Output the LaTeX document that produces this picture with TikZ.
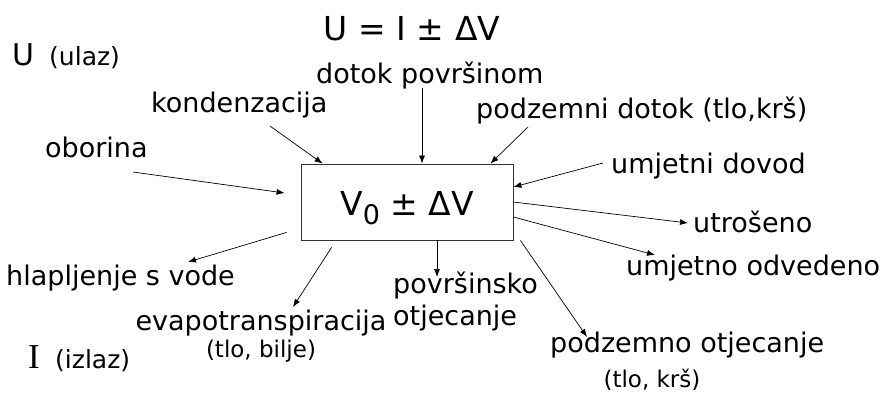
\documentclass[tikz,border=0pt]{standalone}
\usepackage{fontspec}
\setmainfont{DejaVu Sans}
\newfontfamily\serifI{Liberation Serif}
\usetikzlibrary{arrows.meta}

\begin{document}
\begin{tikzpicture}[x=1pt,y=-1pt,
  lbl/.style={font=\fontsize{27}{32}\selectfont, inner sep=0pt, anchor=base west},
  note/.style={font=\fontsize{23}{28}\selectfont, inner sep=0pt, anchor=base},
  flow/.style={-{Latex[length=8pt,width=6pt]}, line width=0.7pt}]
\useasboundingbox (0,0) rectangle (880,394);
% naslov i oznake
\node[inner sep=0pt, anchor=base, font=\fontsize{33}{40}\selectfont] (bilanca) at (412,40) {U = I ± ΔV};
\node[inner sep=0pt, anchor=base west, font=\fontsize{30}{34}\selectfont] (ulazU) at (12,65) {U};
\node[inner sep=0pt, anchor=base west, font=\fontsize{25}{28}\selectfont] (ulaz) at (49,65) {(ulaz)};
\node[inner sep=0pt, anchor=base west, font=\fontsize{35}{40}\serifI] (izlazI) at (28,368) {I};
\node[inner sep=0pt, anchor=base west, font=\fontsize{25}{28}\selectfont] (izlaz) at (55,368) {(izlaz)};
% spremnik
\node[draw=black!80, line width=0.8pt, minimum width=212pt, minimum height=76pt, inner sep=0pt,
  text height=30pt, text depth=4pt, font=\fontsize{33}{38}\selectfont] (v0) at (407,202)
  {V\raisebox{-9pt}{\fontsize{27}{30}\selectfont 0} ± ΔV};
% ulazi
\node[lbl] (dotok) at (316,83) {dotok površinom};
\node[lbl] (kond) at (151,112) {kondenzacija};
\node[lbl] (podzdotok) at (476,118) {podzemni dotok (tlo,krš)};
\node[lbl] (oborina) at (45,157) {oborina};
\node[lbl] (dovod) at (611,173) {umjetni dovod};
% izlazi
\node[lbl] (utroseno) at (693,232) {utrošeno};
\node[lbl] (odvedeno) at (626,275) {umjetno odvedeno};
\node[lbl] (hlap) at (6,285) {hlapljenje s vode};
\node[lbl, align=left] (povrs) at (393,325) {površinsko\\otjecanje};
\node[lbl, anchor=base] (evap) at (261,330) {evapotranspiracija};
\node[note] (evapnote) at (261,357) {(tlo, bilje)};
\node[lbl] (podzotj) at (550,352) {podzemno otjecanje};
\node[note] (podznote) at (652,387) {(tlo, krš)};

\draw[flow] ([shift={(88,15)}]oborina.base west) -- ([shift={(-16,-9)}]v0.west);
\draw[flow] ([shift={(119,14)}]kond.base west) -- ([shift={(22,0)}]v0.north west);
\draw[flow] ([shift={(106,5)}]dotok.base west) -- ([shift={(15,0)}]v0.north);
\draw[flow] ([shift={(52,9)}]podzdotok.base west) -- ([shift={(-23,0)}]v0.north east);
\draw[flow] ([shift={(-8,-10)}]dovod.base west) -- ([shift={(0,-15)}]v0.east);
\draw[flow] (v0.east) -- ([shift={(-5,-9)}]utroseno.base west);
\draw[flow] ([shift={(0,15)}]v0.east) -- ([shift={(29,-20)}]odvedeno.base west);
\draw[flow] ([shift={(7,0)}]v0.south east) -- ([shift={(37,-15)}]podzotj.base west);
\draw[flow] ([shift={(30,0)}]v0.south) -- ([shift={(44,-48)}]povrs.base west);
\draw[flow] ([shift={(-14,-8)}]v0.south west) -- ([shift={(182,-23)}]hlap.base west);
\draw[flow] ([shift={(31,7)}]v0.south west) -- ([shift={(32,-23)}]evap.base);
\end{tikzpicture}
\end{document}
